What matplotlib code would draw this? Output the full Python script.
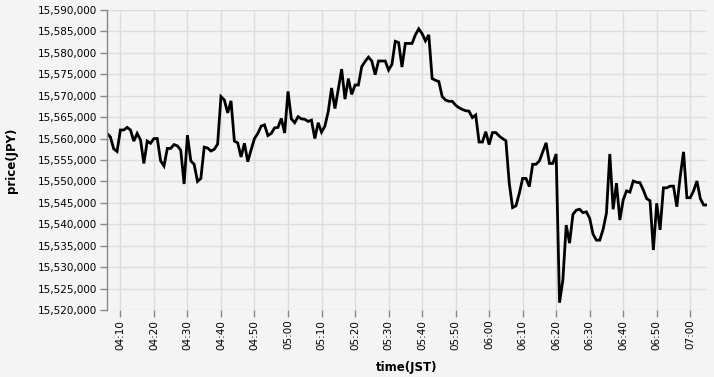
#!/usr/bin/env python3
"""Recreate the JPY price line chart (time in JST)."""

import matplotlib

matplotlib.use("Agg")
import matplotlib.pyplot as plt
import matplotlib.dates as mdates
import matplotlib.ticker as mticker
import pandas as pd

START = "2024-01-01 04:06"

# one price per minute, 04:06 .. 07:05
prices = [
  15561200, 15560400, 15557600, 15557000, 15562000, 15562000, 15562600, 15562000,
  15559400, 15561200, 15559700, 15554200, 15559400, 15558900, 15560000, 15560000,
  15554800, 15553600, 15557700, 15557700, 15558600, 15558300, 15557300, 15549400,
  15560800, 15554800, 15554000, 15550000, 15550700, 15558000, 15557800, 15557100,
  15557500, 15558700, 15569800, 15569000, 15566000, 15568800, 15559400, 15559000,
  15555700, 15558900, 15554600, 15557400, 15560000, 15561200, 15562900, 15563200,
  15560700, 15561200, 15562500, 15562600, 15564700, 15561300, 15571000, 15564600,
  15563700, 15565100, 15564600, 15564500, 15564000, 15564300, 15560000, 15563700,
  15561500, 15562900, 15566300, 15571800, 15567000, 15571500, 15576200, 15569200,
  15574000, 15570300, 15572500, 15572500, 15576800, 15578000, 15579000, 15578100,
  15574900, 15578100, 15578100, 15578100, 15576000, 15577300, 15582700, 15582400,
  15576700, 15582200, 15582200, 15582200, 15584200, 15585600, 15584500, 15582800,
  15584200, 15574000, 15573600, 15573300, 15569800, 15569000, 15568700, 15568700,
  15567800, 15567200, 15566800, 15566500, 15566400, 15564900, 15565500, 15559200,
  15559200, 15561600, 15558600, 15561400, 15561400, 15560600, 15560000, 15559500,
  15549600, 15543900, 15544300, 15547200, 15550700, 15550700, 15548800, 15554000,
  15554000, 15554800, 15556900, 15559000, 15554200, 15554200, 15556400, 15521700,
  15527000, 15539800, 15535600, 15542300, 15543300, 15543500, 15542700, 15542900,
  15541400, 15537700, 15536300, 15536300, 15538800, 15542600, 15556400, 15543500,
  15549600, 15541000, 15545700, 15547800, 15547500, 15550100, 15549800, 15549700,
  15548000, 15546000, 15545500, 15534000, 15544900, 15538700, 15548500, 15548500,
  15548900, 15548900, 15544100, 15551100, 15556900, 15546200, 15546200, 15547800,
  15550100, 15546000, 15544500, 15544500,
]

times = pd.date_range(START, periods=len(prices), freq="1min")

y_min, y_max, y_step = 15520000, 15590000, 5000

BG = "#f4f4f4"
GRID = "#dddddd"
AXIS = "#888888"
TEXT = "#000000"


def main() -> None:
  fig = plt.figure(figsize=(7.14, 3.77), dpi=100, facecolor=BG)
  ax = fig.add_axes([107 / 714, 1 - 310 / 377, 600 / 714, 300 / 377])
  ax.set_facecolor(BG)

  ax.plot(times, prices, color="black", linewidth=2, solid_joinstyle="miter")

  ax.set_xlim(times[0], times[-1])
  ax.set_ylim(y_min, y_max)

  ax.yaxis.set_major_locator(mticker.MultipleLocator(y_step))
  ax.yaxis.set_major_formatter(mticker.StrMethodFormatter("{x:,.0f}"))
  ax.xaxis.set_major_locator(mdates.MinuteLocator(byminute=range(0, 60, 10)))
  ax.xaxis.set_major_formatter(mdates.DateFormatter("%H:%M"))

  ax.grid(True, color=GRID, linewidth=1)
  ax.set_axisbelow(True)

  for side in ("top", "right", "bottom"):
    ax.spines[side].set_visible(False)
  ax.spines["left"].set_color(AXIS)
  ax.spines["left"].set_linewidth(1)

  ax.tick_params(axis="both", colors=AXIS, length=5, width=1, labelsize=7.5,
                 labelcolor=TEXT, pad=2)
  plt.setp(ax.get_xticklabels(), rotation=90)

  ax.set_xlabel("time(JST)", fontsize=8.5, fontweight="bold", labelpad=8)
  ax.set_ylabel("price(JPY)", fontsize=8.5, fontweight="bold", labelpad=14)

  fig.savefig("out.png", dpi=100, facecolor=BG)
  plt.close(fig)


if __name__ == "__main__":
  main()
